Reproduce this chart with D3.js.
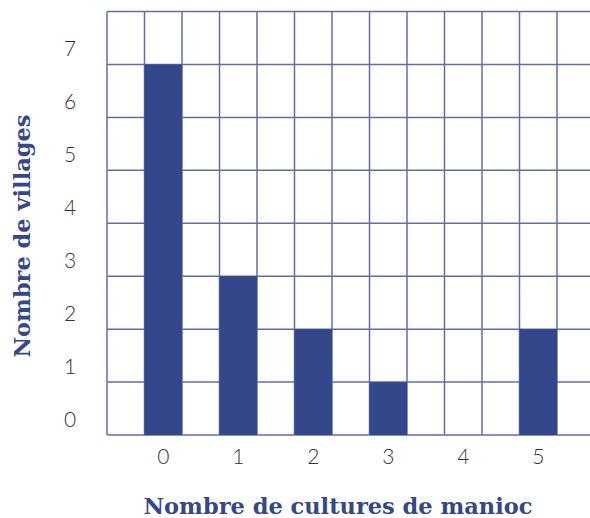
<!DOCTYPE html>
<html><head><meta charset="utf-8">
<script src="https://cdn.jsdelivr.net/npm/d3@7"></script>
<style>html,body{margin:0;padding:0;background:#fff;overflow:hidden}</style>
</head><body>
<script>
const categories = [0, 1, 2, 3, 4, 5];
const villages = [7, 3, 2, 1, 0, 2];
const yTicks = [0, 1, 2, 3, 4, 5, 6, 7];
const xTitle = "Nombre de cultures de manioc";
const yTitle = "Nombre de villages";

const W = 590, H = 518;
const blue = "#34478a";
const svg = d3.select("body").append("svg").attr("width", W).attr("height", H);

const x = d3.scaleLinear().domain([-0.75, 5.75]).range([107, 594.5]);
const y = d3.scaleLinear().domain([0, 8]).range([435, 11.5]);

// grid
const g = svg.append("g").attr("fill", "none");
const vLines = d3.range(-0.75, 5.76, 0.5);
g.selectAll(".v").data(vLines).join("line")
  .attr("x1", d => x(d)).attr("x2", d => x(d))
  .attr("y1", y(8)).attr("y2", y(0))
  .attr("stroke", "#5f6ea8").attr("stroke-width", 1.5);
g.selectAll(".h").data(d3.range(0, 9)).join("line")
  .attr("x1", x(-0.75)).attr("x2", W)
  .attr("y1", d => y(d)).attr("y2", d => y(d))
  .attr("stroke", "#5f6ea8").attr("stroke-width", 1.5);

// bars
svg.append("g").selectAll("rect").data(categories).join("rect")
  .attr("x", (d) => x(d - 0.25))
  .attr("width", (d) => x(d + 0.25) - x(d - 0.25))
  .attr("y", (d, i) => y(villages[i]))
  .attr("height", (d, i) => y(0) - y(villages[i]))
  .attr("fill", blue);

// y tick labels
svg.append("g").selectAll("text").data(yTicks).join("text")
  .attr("x", 70).attr("y", d => y(d + 0.32))
  .attr("text-anchor", "middle").attr("dominant-baseline", "central")
  .attr("font-family", "Lato, 'Noto Sans', sans-serif").attr("font-weight", 300)
  .attr("font-size", 21).attr("fill", "#333")
  .text(d => d);

// x tick labels
svg.append("g").selectAll("text").data(categories).join("text")
  .attr("x", d => x(d)).attr("y", 455)
  .attr("text-anchor", "middle").attr("dominant-baseline", "central")
  .attr("font-family", "Lato, 'Noto Sans', sans-serif").attr("font-weight", 300)
  .attr("font-size", 21).attr("fill", "#333")
  .text(d => d);

// titles
svg.append("text").attr("x", 338).attr("y", 506)
  .attr("text-anchor", "middle").attr("dominant-baseline", "central")
  .attr("font-family", "'DejaVu Serif', serif").attr("font-weight", "bold")
  .attr("font-size", 22.5).attr("fill", blue).text(xTitle);
svg.append("text").attr("transform", "translate(22,236) rotate(-90)")
  .attr("text-anchor", "middle").attr("dominant-baseline", "central")
  .attr("font-family", "'DejaVu Serif', serif").attr("font-weight", "bold")
  .attr("font-size", 22.5).attr("fill", blue).text(yTitle);
</script>
</body></html>
